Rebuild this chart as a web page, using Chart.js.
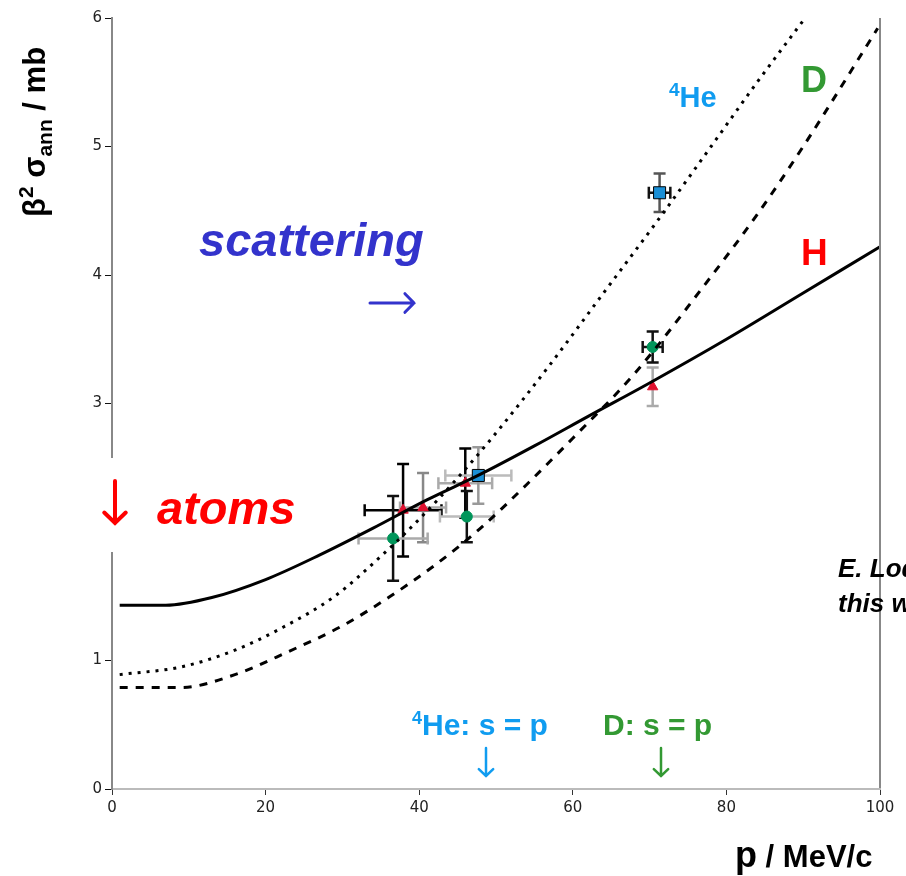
<!DOCTYPE html>
<html lang="en">
<head>
<meta charset="UTF-8">
<title>Annihilation cross section vs momentum</title>
<script src="https://cdn.jsdelivr.net/npm/chart.js"></script>
<style>
  body { margin: 0; background: #fff; }
  #wrap { width: 906px; height: 876px; position: relative; }
</style>
</head>
<body>
<div id="wrap"><canvas id="chart" width="906" height="876"></canvas></div>
<script>
// tick values
const xTicks = [0, 20, 40, 60, 80, 100];
const yTicks = [0, 1, 2, 3, 4, 5, 6];

// model curves (p in MeV/c, beta^2 sigma in mb)
const hCurveP  = [1, 7, 13, 20, 27, 34, 41, 48, 55, 62, 70, 80, 90, 100];
const hCurveS  = [1.43, 1.43, 1.49, 1.63, 1.82, 2.03, 2.25, 2.45, 2.67, 2.90, 3.16, 3.50, 3.86, 4.22];
const heCurveP = [1, 9, 16, 22, 29, 35, 40, 45, 50, 57, 64, 71, 78, 84, 90];
const heCurveS = [0.89, 0.95, 1.08, 1.25, 1.50, 1.81, 2.10, 2.42, 2.77, 3.30, 3.86, 4.42, 5.00, 5.50, 5.98];
const dCurveP  = [1, 9, 16, 23, 30, 36, 42, 48, 54, 60, 68, 77, 84, 90, 99.7];
const dCurveS  = [0.79, 0.79, 0.89, 1.07, 1.27, 1.49, 1.74, 2.03, 2.37, 2.73, 3.23, 3.91, 4.47, 5.00, 5.92];

// measurements with errors
const hP  = [37.9, 40.5, 46.0, 70.4];
const hS  = [2.17, 2.19, 2.38, 3.13];
const hPe = [5.0, 3.0, 3.5, 0];
const hSe = [0.36, 0.27, 0.27, 0.15];
const dP  = [36.6, 46.2, 70.4];
const dS  = [1.95, 2.12, 3.44];
const dPe = [4.5, 3.5, 1.3];
const dSe = [0.33, 0.20, 0.12];
const heP  = [47.7, 71.3];
const heS  = [2.44, 4.64];
const hePe = [4.3, 1.4];
const heSe = [0.22, 0.15];

const pts = (xs, ys) => xs.map((x, i) => ({ x: x, y: ys[i] }));

// colours of the error bars: [vertical, horizontal] per point
const barColors = {
  3: [['#000', '#000'], ['#888', '#aaa'], ['#000', '#aaa'], ['#aaa', '#aaa']],
  4: [['#111', '#aaa'], ['#111', '#bbb'], ['#111', '#111']],
  5: [['#999', '#bbb'], ['#555', '#111']]
};
const errs = { 3: [hPe, hSe], 4: [dPe, dSe], 5: [hePe, heSe] };

const errorBars = {
  id: 'errorBars',
  beforeDatasetsDraw(chart) {
    const ctx = chart.ctx, xs = chart.scales.x, ys = chart.scales.y;
    ctx.save();
    ctx.lineWidth = 2.5;
    Object.keys(errs).forEach(k => {
      const ds = chart.data.datasets[k];
      const [pe, se] = errs[k];
      ds.data.forEach((d, i) => {
        const cx = xs.getPixelForValue(d.x), cy = ys.getPixelForValue(d.y);
        const y1 = ys.getPixelForValue(d.y + se[i]), y2 = ys.getPixelForValue(d.y - se[i]);
        const [vc, hc] = barColors[k][i];
        ctx.strokeStyle = vc;
        ctx.beginPath();
        ctx.moveTo(cx, y1); ctx.lineTo(cx, y2);
        ctx.moveTo(cx - 6, y1); ctx.lineTo(cx + 6, y1);
        ctx.moveTo(cx - 6, y2); ctx.lineTo(cx + 6, y2);
        ctx.stroke();
        if (pe[i] > 0) {
          const x1 = xs.getPixelForValue(d.x - pe[i]), x2 = xs.getPixelForValue(d.x + pe[i]);
          ctx.strokeStyle = hc;
          ctx.beginPath();
          ctx.moveTo(x1, cy); ctx.lineTo(x2, cy);
          ctx.moveTo(x1, cy - 6); ctx.lineTo(x1, cy + 6);
          ctx.moveTo(x2, cy - 6); ctx.lineTo(x2, cy + 6);
          ctx.stroke();
        }
      });
    });
    ctx.restore();
  }
};

// draws a string made of parts with their own size and vertical shift
function drawParts(ctx, parts, x, y, color, style) {
  ctx.fillStyle = color;
  ctx.textBaseline = 'alphabetic';
  ctx.textAlign = 'left';
  parts.forEach(p => {
    ctx.font = (style || 'bold') + ' ' + p[1] + 'px "Liberation Sans", Arial, sans-serif';
    ctx.fillText(p[0], x, y + (p[2] || 0));
    x += ctx.measureText(p[0]).width;
  });
}

function arrow(ctx, x1, y1, x2, y2, head, color, width) {
  const a = Math.atan2(y2 - y1, x2 - x1);
  ctx.strokeStyle = color;
  ctx.lineWidth = width;
  ctx.lineCap = 'round';
  ctx.beginPath();
  ctx.moveTo(x1, y1); ctx.lineTo(x2, y2);
  ctx.moveTo(x2 - head * Math.cos(a - 0.8), y2 - head * Math.sin(a - 0.8));
  ctx.lineTo(x2, y2);
  ctx.lineTo(x2 - head * Math.cos(a + 0.8), y2 - head * Math.sin(a + 0.8));
  ctx.stroke();
}

const annotations = {
  id: 'annotations',
  afterDraw(chart) {
    const ctx = chart.ctx;
    ctx.save();
    // gap in the y axis behind the "atoms" arrow
    ctx.fillStyle = '#fff';
    ctx.fillRect(0, 458, 114, 94);
    // right frame line
    ctx.strokeStyle = '#888';
    ctx.lineWidth = 2;
    ctx.beginPath();
    ctx.moveTo(880, 18); ctx.lineTo(880, 788);
    ctx.stroke();

    // y axis title
    ctx.save();
    ctx.translate(45, 217);
    ctx.rotate(-Math.PI / 2);
    drawParts(ctx, [['\u03B2', 31], ['2', 21, -12], [' \u03C3', 31], ['ann', 21, 7], [' / mb', 31]], 0, 0, '#000');
    ctx.restore();

    // x axis title
    drawParts(ctx, [['p', 36], [' / MeV/c', 31]], 735, 867, '#000');

    // curve labels
    drawParts(ctx, [['4', 19, -11], ['He', 29]], 669, 107, '#109cf0');
    drawParts(ctx, [['D', 36]], 801, 92, '#339933');
    drawParts(ctx, [['H', 37]], 801, 265, '#ff0000');

    drawParts(ctx, [['scattering', 47]], 199, 256, '#3333cc', 'italic bold');
    drawParts(ctx, [['atoms', 47]], 157, 524, '#ff0000', 'italic bold');
    drawParts(ctx, [['E. Lodi Rizzini', 26]], 838, 577, '#000', 'italic bold');
    drawParts(ctx, [['this work', 26]], 838, 612, '#000', 'italic bold');

    drawParts(ctx, [['4', 18, -11], ['He: s = p', 30]], 412, 735, '#109cf0');
    drawParts(ctx, [['D: s = p', 30]], 603, 735, '#339933');

    // arrows
    arrow(ctx, 370, 303, 414, 303, 13, '#3333cc', 3);
    arrow(ctx, 115, 481, 115, 523, 15, '#ff0000', 4);
    arrow(ctx, 486, 748, 486, 776, 10, '#109cf0', 2.5);
    arrow(ctx, 661, 748, 661, 776, 10, '#339933', 2.5);
    ctx.restore();
  }
};

new Chart(document.getElementById('chart'), {
  type: 'scatter',
  data: {
    datasets: [
      { label: 'H', data: pts(hCurveP, hCurveS), showLine: true, borderColor: '#000', borderWidth: 3,
        pointRadius: 0, cubicInterpolationMode: 'monotone' },
      { label: '4He', data: pts(heCurveP, heCurveS), showLine: true, borderColor: '#000', borderWidth: 3,
        borderDash: [3, 6], pointRadius: 0, cubicInterpolationMode: 'monotone' },
      { label: 'D', data: pts(dCurveP, dCurveS), showLine: true, borderColor: '#000', borderWidth: 3,
        borderDash: [8, 8], pointRadius: 0, cubicInterpolationMode: 'monotone' },
      { label: 'H data', data: pts(hP, hS), pointStyle: 'triangle', pointRadius: 6,
        backgroundColor: '#e0102e', borderColor: '#e0102e', borderWidth: 1 },
      { label: 'D data', data: pts(dP, dS), pointStyle: 'circle', pointRadius: 5.5,
        backgroundColor: '#00955a', borderColor: '#00955a', borderWidth: 1 },
      { label: '4He data', data: pts(heP, heS), pointStyle: 'rect', pointRadius: 8.5,
        backgroundColor: '#1a8fd6', borderColor: '#000', borderWidth: 1 }
    ]
  },
  options: {
    responsive: false,
    animation: false,
    layout: { padding: { top: 18, right: 26, left: 0, bottom: 0 } },
    plugins: { legend: { display: false }, tooltip: { enabled: false } },
    scales: {
      x: {
        type: 'linear', min: 0, max: 100,
        afterBuildTicks: s => { s.ticks = xTicks.map(v => ({ value: v })); },
        afterFit: s => { s.height = 87; },
        grid: { drawOnChartArea: false, drawTicks: true, tickLength: 6, tickColor: '#333' },
        border: { color: '#bbb', width: 2 },
        ticks: { color: '#222', padding: 4, font: { family: 'DejaVu Sans', size: 15 } }
      },
      y: {
        type: 'linear', min: 0, max: 6,
        afterBuildTicks: s => { s.ticks = yTicks.map(v => ({ value: v })); },
        afterFit: s => { s.width = 112; },
        grid: { drawOnChartArea: false, drawTicks: true, tickLength: 7, tickColor: '#111' },
        border: { color: '#888', width: 2 },
        ticks: { color: '#222', padding: 3, font: { family: 'DejaVu Sans', size: 15 } }
      }
    }
  },
  plugins: [errorBars, annotations]
});
</script>
</body>
</html>
